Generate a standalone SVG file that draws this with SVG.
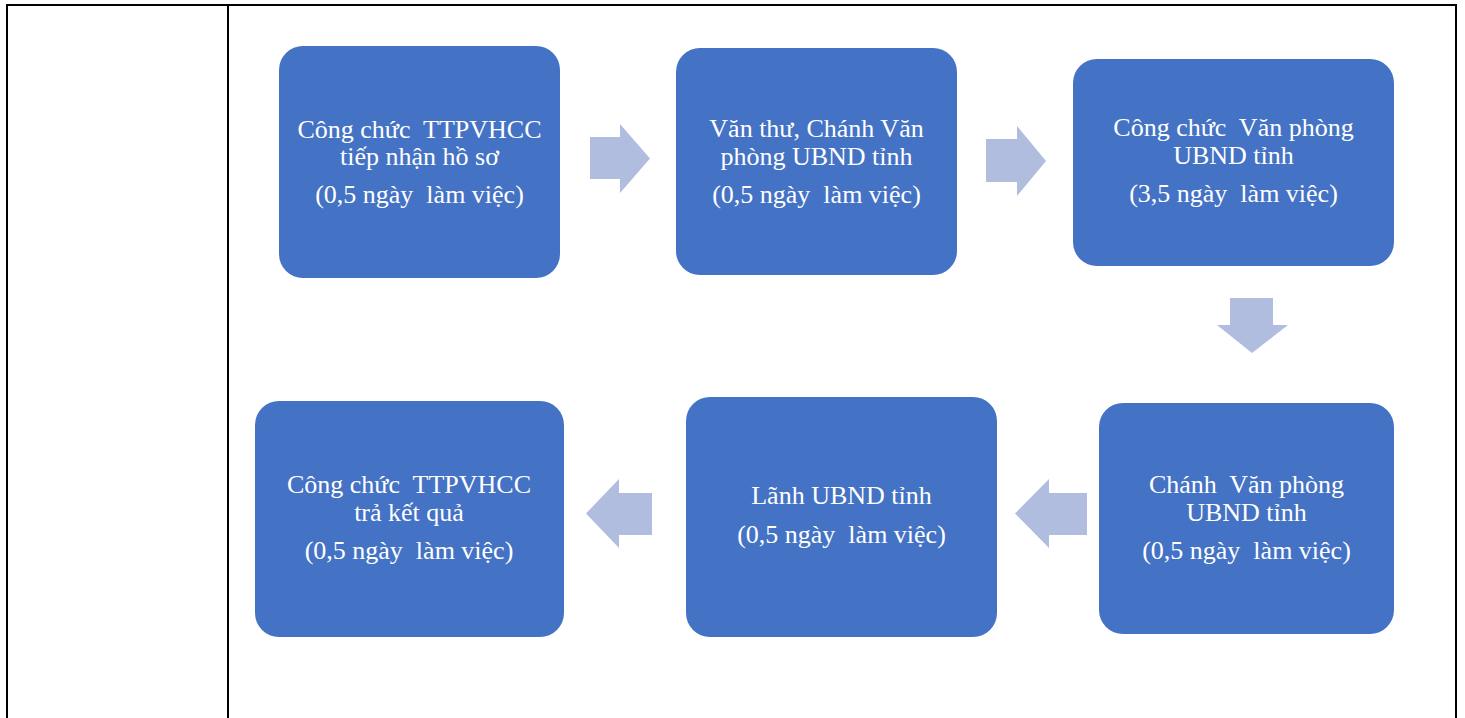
<svg xmlns="http://www.w3.org/2000/svg" width="1465" height="718" viewBox="0 0 1465 718">
<style>
.frame{stroke:#000;stroke-width:2;fill:none}
.box{fill:#4472C4}
.arr{fill:#B0BDDF}
.t{font-family:"Liberation Serif","Times New Roman",serif;font-size:26px;fill:#fff;text-anchor:middle;white-space:pre}
</style>
<rect width="1465" height="718" fill="#fff"/>
<g id="frame">
<line class="frame" x1="6" y1="5" x2="1457" y2="5"/>
<line class="frame" x1="7" y1="4" x2="7" y2="718"/>
<line class="frame" x1="228" y1="4" x2="228" y2="718"/>
<line class="frame" x1="1456" y1="4" x2="1456" y2="718"/>
</g>
<g id="connectors">
<polygon class="arr" points="590,137 620,137 620,124 650,158.5 620,193 620,179 590,179"/>
<polygon class="arr" points="986,139 1017,139 1017,126 1046,161 1017,196 1017,182 986,182"/>
<polygon class="arr" points="1230,298 1273,298 1273,325 1288,325 1252,353 1217,325 1230,325"/>
<polygon class="arr" points="1087,493 1049,493 1049,479 1015,513.5 1049,548 1049,535 1087,535"/>
<polygon class="arr" points="652,493 619,493 619,479 586,513.5 619,548 619,535 652,535"/>
</g>
<g id="node1">
<rect class="box" x="279" y="46" width="281" height="232" rx="24"/>
<text class="t" x="419.5" y="138">Công chức  TTPVHCC</text>
<text class="t" x="419.5" y="165">tiếp nhận hồ sơ</text>
<text class="t" x="419.5" y="203">(0,5 ngày  làm việc)</text>
</g>
<g id="node2">
<rect class="box" x="676" y="48" width="281" height="227" rx="24"/>
<text class="t" x="816.5" y="137">Văn thư, Chánh Văn</text>
<text class="t" x="816.5" y="165">phòng UBND tỉnh</text>
<text class="t" x="816.5" y="203">(0,5 ngày  làm việc)</text>
</g>
<g id="node3">
<rect class="box" x="1073" y="59" width="321" height="207" rx="24"/>
<text class="t" x="1233.5" y="136">Công chức  Văn phòng</text>
<text class="t" x="1233.5" y="164">UBND tỉnh</text>
<text class="t" x="1233.5" y="202">(3,5 ngày  làm việc)</text>
</g>
<g id="node4">
<rect class="box" x="1099" y="403" width="295" height="231" rx="24"/>
<text class="t" x="1246.5" y="493">Chánh  Văn phòng</text>
<text class="t" x="1246.5" y="521">UBND tỉnh</text>
<text class="t" x="1246.5" y="559">(0,5 ngày  làm việc)</text>
</g>
<g id="node5">
<rect class="box" x="686" y="397" width="311" height="240" rx="24"/>
<text class="t" x="841.5" y="504">Lãnh UBND tỉnh</text>
<text class="t" x="841.5" y="543">(0,5 ngày  làm việc)</text>
</g>
<g id="node6">
<rect class="box" x="255" y="401" width="309" height="236" rx="24"/>
<text class="t" x="409" y="493">Công chức  TTPVHCC</text>
<text class="t" x="409" y="521">trả kết quả</text>
<text class="t" x="409" y="559">(0,5 ngày  làm việc)</text>
</g>
</svg>
